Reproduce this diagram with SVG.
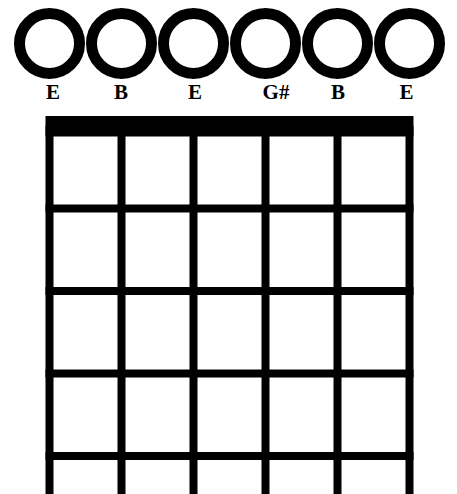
<svg xmlns="http://www.w3.org/2000/svg" width="457" height="494" viewBox="0 0 457 494">
<style>
.ring{fill:none;stroke:#000;stroke-width:11}
.lbl{font-family:"Liberation Serif","DejaVu Serif",serif;font-weight:bold;font-size:21px;fill:#000;text-anchor:middle}
.str{stroke:#000;stroke-width:8}
.fret{stroke:#000;stroke-width:8}
</style>
<rect width="457" height="494" fill="#fff"/>
<g id="open-strings">
<g id="s1"><circle class="ring" cx="49.5" cy="43.5" r="30"/><text class="lbl" x="53" y="99">E</text></g>
<g id="s2"><circle class="ring" cx="121.5" cy="43.5" r="30"/><text class="lbl" x="121" y="99">B</text></g>
<g id="s3"><circle class="ring" cx="193.5" cy="43.5" r="30"/><text class="lbl" x="195" y="99">E</text></g>
<g id="s4"><circle class="ring" cx="265.5" cy="43.5" r="30"/><text class="lbl" x="276" y="99">G#</text></g>
<g id="s5"><circle class="ring" cx="337.5" cy="43.5" r="30"/><text class="lbl" x="338" y="99">B</text></g>
<g id="s6"><circle class="ring" cx="409.5" cy="43.5" r="30"/><text class="lbl" x="406.5" y="99">E</text></g>
</g>
<g id="fretboard">
<rect id="nut" x="45.5" y="116" width="368" height="20.5" fill="#000"/>
<g id="strings">
<line class="str" x1="49.5" y1="126" x2="49.5" y2="494"/>
<line class="str" x1="121.5" y1="126" x2="121.5" y2="494"/>
<line class="str" x1="193.5" y1="126" x2="193.5" y2="494"/>
<line class="str" x1="265.5" y1="126" x2="265.5" y2="494"/>
<line class="str" x1="337.5" y1="126" x2="337.5" y2="494"/>
<line class="str" x1="409.5" y1="126" x2="409.5" y2="494"/>
</g>
<g id="frets">
<line class="fret" x1="45.5" y1="208.5" x2="413.5" y2="208.5"/>
<line class="fret" x1="45.5" y1="291" x2="413.5" y2="291"/>
<line class="fret" x1="45.5" y1="373.5" x2="413.5" y2="373.5"/>
<line class="fret" x1="45.5" y1="456" x2="413.5" y2="456"/>
</g>
</g>
</svg>
